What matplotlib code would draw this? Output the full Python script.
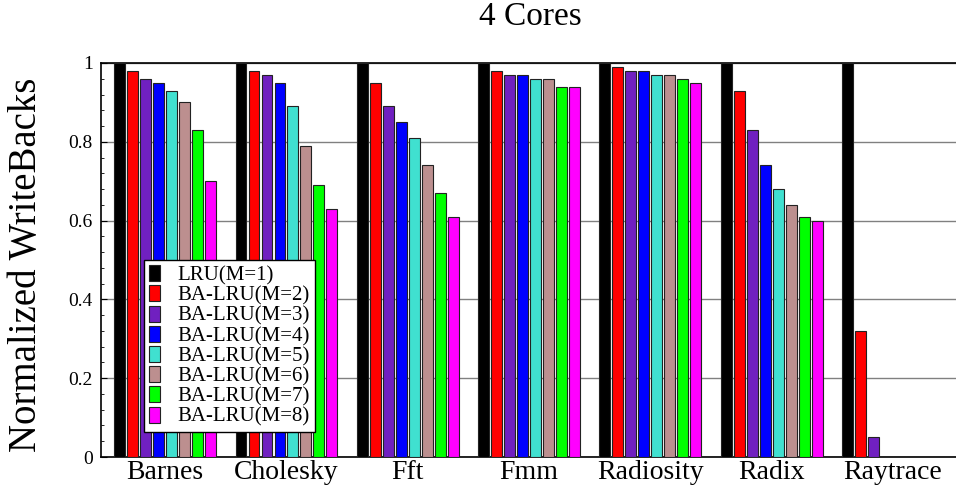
import numpy as np
import matplotlib
matplotlib.use("Agg")
import matplotlib.pyplot as plt
from matplotlib.ticker import MultipleLocator, FuncFormatter

plt.rcParams['font.family'] = ['Liberation Serif', 'DejaVu Serif']

benchmarks = ['Barnes', 'Cholesky', 'Fft', 'Fmm', 'Radiosity', 'Radix', 'Raytrace']
series_names = ['LRU(M=1)', 'BA-LRU(M=2)', 'BA-LRU(M=3)', 'BA-LRU(M=4)',
                'BA-LRU(M=5)', 'BA-LRU(M=6)', 'BA-LRU(M=7)', 'BA-LRU(M=8)']
colors = ['#000000', '#ff0000', '#7020c0', '#0000ff',
          '#40e0d0', '#bc8f8f', '#00ff00', '#ff00ff']

# one list per benchmark, values for M=1..8
barnes = [1.0, 0.98, 0.96, 0.95, 0.93, 0.90, 0.83, 0.70]
cholesky = [1.0, 0.98, 0.97, 0.95, 0.89, 0.79, 0.69, 0.63]
fft = [1.0, 0.95, 0.89, 0.85, 0.81, 0.74, 0.67, 0.61]
fmm = [1.0, 0.98, 0.97, 0.97, 0.96, 0.96, 0.94, 0.94]
radiosity = [1.0, 0.99, 0.98, 0.98, 0.97, 0.97, 0.96, 0.95]
radix = [1.0, 0.93, 0.83, 0.74, 0.68, 0.64, 0.61, 0.60]
raytrace = [1.0, 0.32, 0.05, 0.0, 0.0, 0.0, 0.0, 0.0]

values = np.array([barnes, cholesky, fft, fmm, radiosity, radix, raytrace])

fig = plt.figure(figsize=(9.56, 4.86), dpi=100)
ax = fig.add_axes([101/956, 29/486, 855/956, 394/486])

x = np.arange(len(benchmarks))
step = 0.107
width = 0.09
for j, name in enumerate(series_names):
    ax.bar(x + (j - 3.5) * step, values[:, j], width, color=colors[j],
           edgecolor='#222222', linewidth=0.8, label=name, zorder=3)

ax.set_xlim(-0.529, 6.52)
ax.set_ylim(0, 1)
ax.set_xticks(x)
ax.set_xticklabels(benchmarks, fontsize=20)
ax.tick_params(axis='x', length=0, pad=2)
ax.yaxis.set_major_locator(MultipleLocator(0.2))
ax.yaxis.set_minor_locator(MultipleLocator(0.04))
ax.yaxis.set_major_formatter(FuncFormatter(lambda v, p: '%g' % round(v, 2)))
ax.tick_params(axis='y', which='major', direction='in', length=4, labelsize=14, pad=6)
ax.tick_params(axis='y', which='minor', direction='in', length=2)
ax.grid(axis='y', color='#808080', linewidth=1.0, zorder=0)
ax.spines['right'].set_visible(False)
for s in ['top', 'bottom', 'left']:
    ax.spines[s].set_linewidth(1.2)

leg = ax.legend(loc='upper left', bbox_to_anchor=(0.05, 0.5), fontsize=15,
                frameon=True, fancybox=False, framealpha=1, edgecolor='black',
                handlelength=0.55, handleheight=0.8, handletextpad=0.8,
                labelspacing=0.0, borderpad=0.25, borderaxespad=0)
leg.get_frame().set_linewidth(1.0)
leg.set_zorder(5)

fig.text(0.555, 1 - 25/486, '4 Cores', ha='center', va='baseline', fontsize=24)
fig.text(0.028, 0.455, 'Normalized WriteBacks', rotation=90, ha='center', va='center',
         fontsize=28)

fig.savefig('out.png', dpi=100)
